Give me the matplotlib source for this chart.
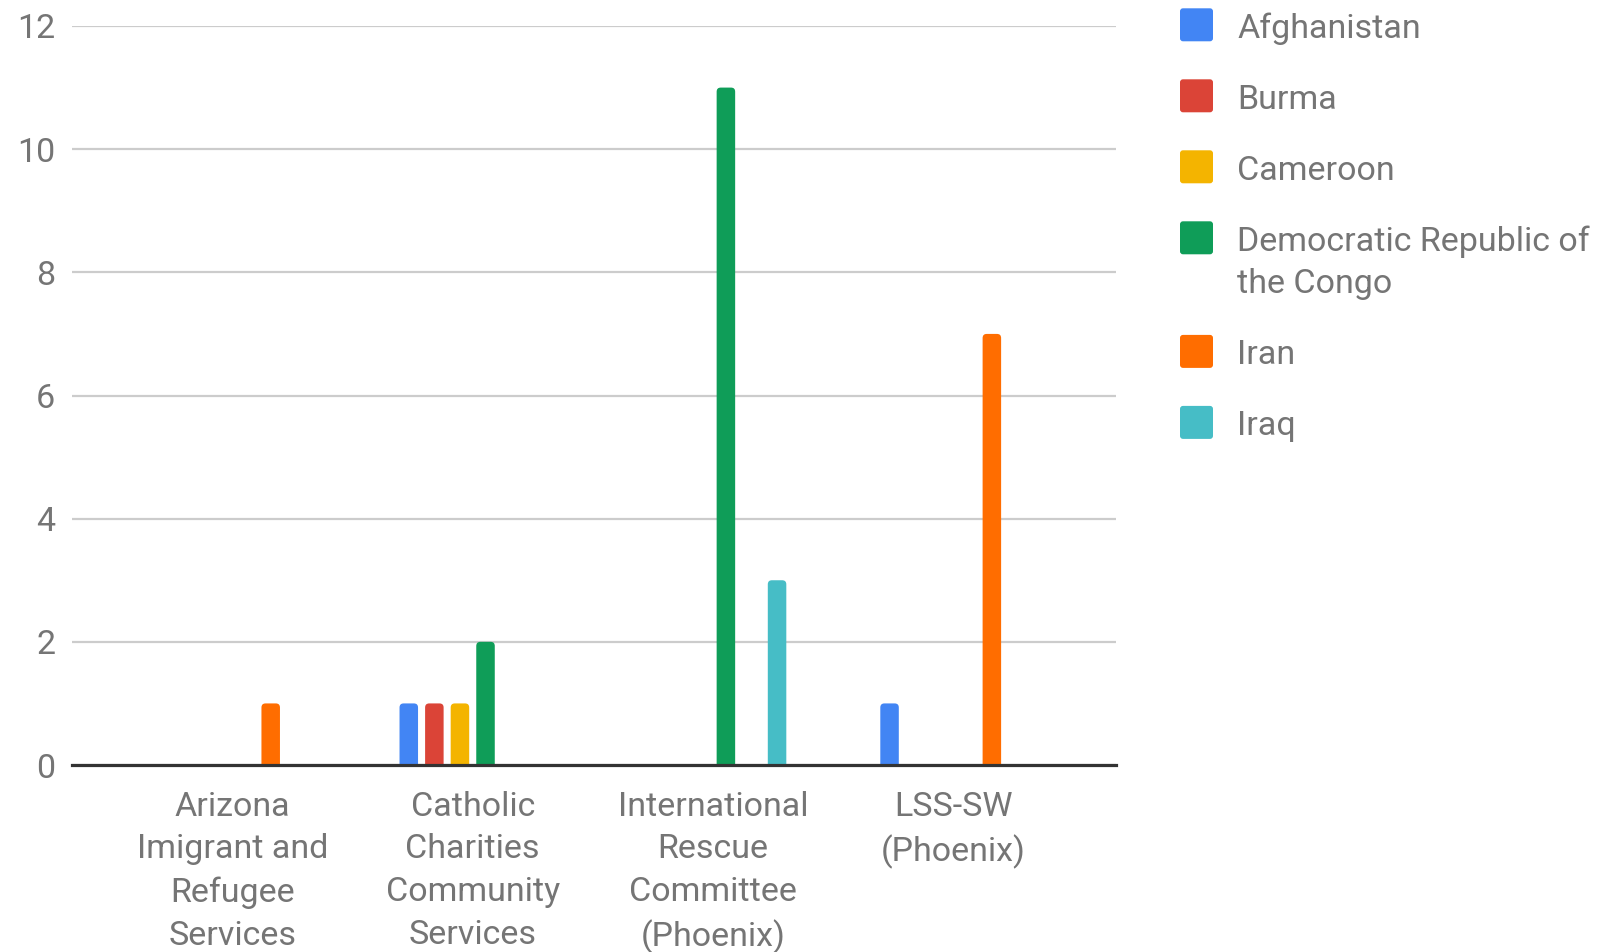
import numpy as np
import matplotlib
matplotlib.use("Agg")
import matplotlib.pyplot as plt
from matplotlib.patches import FancyBboxPatch
from matplotlib.transforms import IdentityTransform

# data
agencies = ["Arizona\nImigrant and\nRefugee\nServices",
            "Catholic\nCharities\nCommunity\nServices",
            "International\nRescue\nCommittee\n(Phoenix)",
            "LSS-SW\n(Phoenix)"]
countries = ["Afghanistan", "Burma", "Cameroon",
             "Democratic Republic of\nthe Congo", "Iran", "Iraq"]
afghanistan = [0, 1, 0, 1]
burma = [0, 1, 0, 0]
cameroon = [0, 1, 0, 0]
drc = [0, 2, 11, 0]
iran = [1, 0, 0, 7]
iraq = [0, 0, 3, 0]
colors = ["#4285F4", "#DB4437", "#F4B400", "#0F9D58", "#FF6D00", "#46BDC6"]
yticks = [0, 2, 4, 6, 8, 10, 12]

series = [afghanistan, burma, cameroon, drc, iran, iraq]

plt.rcParams['font.family'] = ['Roboto', 'DejaVu Sans']
txt = "#757575"
fs = 24.5

W, H = 1603, 952
fig = plt.figure(figsize=(W / 100, H / 100), dpi=100)
ax = fig.add_axes([72 / W, 1 - 765 / H, (1116 - 72) / W, (765 - 26) / H])

x = np.arange(len(agencies))
step = 0.1064
width = 0.077
aspect = (1 / 61.6) / (1 / 240.5)
for i, (vals, c) in enumerate(zip(series, colors)):
    bars = ax.bar(x + (i - 2.5) * step, vals, width, color=c, zorder=3)
    for r in bars:
        r.set_visible(False)
        if r.get_height() > 0:
            ax.add_patch(FancyBboxPatch((r.get_x(), -0.2), r.get_width(), r.get_height() + 0.2,
                                        boxstyle="round,pad=0,rounding_size=0.017",
                                        mutation_aspect=aspect, fc=c, ec="none", zorder=3))

ax.set_xlim(-0.667, 3.676)
ax.set_ylim(0, 12)
ax.set_yticks(yticks)
ax.set_xticks(x)
ax.set_xticklabels(agencies, linespacing=1.43)
ax.tick_params(axis="y", length=0, pad=12, labelsize=fs, labelcolor=txt)
ax.tick_params(axis="x", length=0, pad=18.5, labelsize=fs, labelcolor=txt)
ax.grid(axis="y", color="#cccccc", lw=1.6, zorder=0)
for s in ["top", "right", "left"]:
    ax.spines[s].set_visible(False)
ax.spines["bottom"].set_color("#333333")
ax.spines["bottom"].set_linewidth(2.3)
ax.spines["bottom"].set_zorder(4)

# legend drawn by hand so the wrapped label keeps its swatch on the first line
top = 8.3
for name, c in zip(countries, colors):
    fig.add_artist(FancyBboxPatch((1180, H - top - 33), 33, 33,
                                  boxstyle="round,pad=0,rounding_size=3",
                                  fc=c, ec="none", transform=IdentityTransform()))
    for k, line in enumerate(name.split("\n")):
        fig.text(1237 / W, 1 - (top + 29.4 + k * 42.6) / H, line, fontsize=fs,
                 color=txt, va="baseline", ha="left")
    top += 71 + 42.6 * (name.count("\n"))

fig.savefig("out.png", dpi=100)
